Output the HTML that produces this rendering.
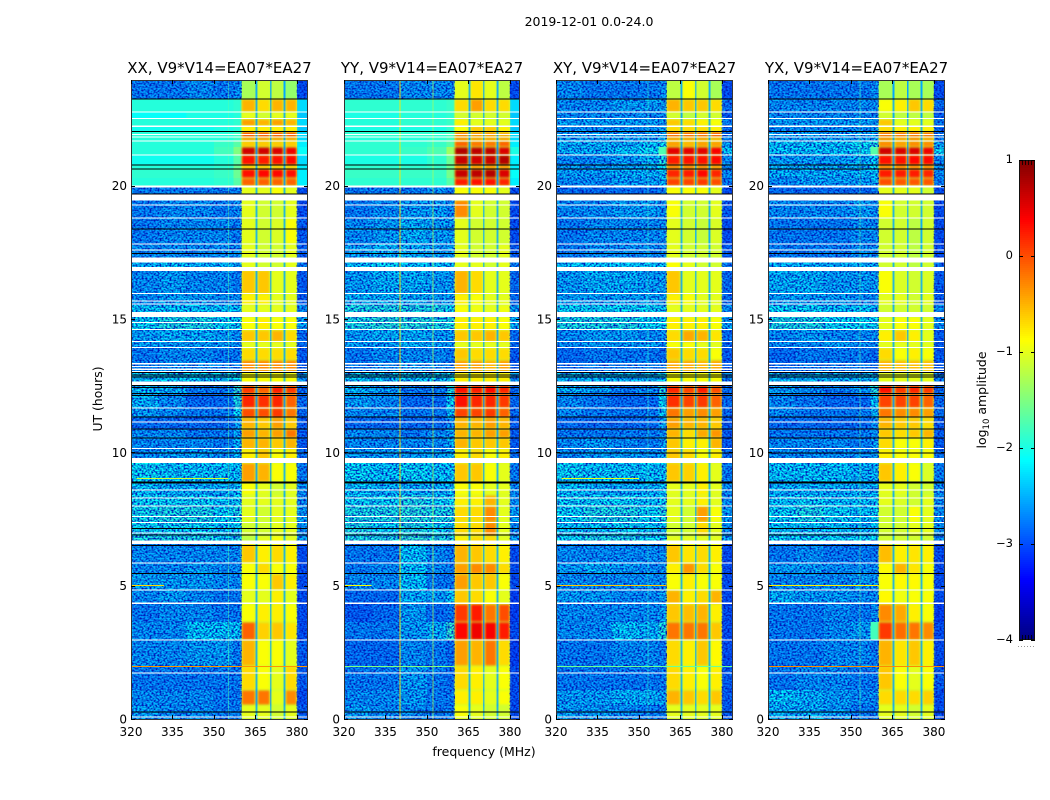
<!DOCTYPE html>
<html><head><meta charset="utf-8"><title>2019-12-01 amplitude spectrograms</title>
<style>html,body{margin:0;padding:0;background:#fff}svg{display:block}text{font-family:"DejaVu Sans","Liberation Sans",sans-serif;fill:#000}</style></head>
<body>
<svg id="fig" xmlns="http://www.w3.org/2000/svg" width="1050" height="800" viewBox="0 0 1050 800">
<defs>
<filter id="soft" x="-5%" y="-5%" width="110%" height="110%" color-interpolation-filters="sRGB"><feGaussianBlur stdDeviation="1"/></filter>
<filter id="grain" x="0" y="0" width="100%" height="100%" color-interpolation-filters="sRGB">
<feTurbulence type="fractalNoise" baseFrequency="0.5 0.6" numOctaves="1" seed="7"/>
<feColorMatrix type="matrix" values="0 0 0 0 0  0 0 0 0 0.08  0 0 0 0 0.72  3 0 0 0 -1.15"/>
</filter>
</defs>
<text x="589" y="26" font-size="12.5" text-anchor="middle">2019-12-01 0.0-24.0</text>
<text x="484" y="756" font-size="12.5" text-anchor="middle">frequency (MHz)</text>
<text transform="translate(102,399) rotate(-90)" font-size="12.4" text-anchor="middle">UT (hours)</text>
<text transform="translate(986,400) rotate(-90)" font-size="12.5" text-anchor="middle">log<tspan font-size="8.5" dy="3">10</tspan><tspan dy="-3"> amplitude</tspan></text>
</svg>
<script>
// ---- chart data ----
const panelTitles = ["XX, V9*V14=EA07*EA27","YY, V9*V14=EA07*EA27","XY, V9*V14=EA07*EA27","YX, V9*V14=EA07*EA27"];
const freqTicks = [320,335,350,365,380];
const hourTicks = [0,5,10,15,20];
const colorTicks = [1,0,-1,-2,-3,-4];
// Top-down time-bin edges (hours UT)
const timeEdges = [23.96,23.25,22.76,22.5,22.24,22.01,21.82,21.67,21.45,21.15,20.77,20.62,20.29,19.98,19.46,18.79,17.81,17.29,16.84,15.94,15.52,15.07,14.59,14.14,13.91,13.46,13.01,12.52,12.19,11.66,11.29,10.87,10.54,10.12,9.6,8.89,8.4,7.99,7.39,6.86,6.56,5.85,5.44,4.84,4.31,3.64,2.96,1.99,1.09,0.52,0];
// Frequency-bin edges (MHz): five off-band columns, four bright sub-bands, one edge column
const offBandEdges = [320,330,340,350,357,360];
const subBandEdges = [[360,365.1],[365.8,370.3],[370.8,375.2],[375.8,380]];
const edgeBand = [380,384];
const gapLevel = -2.55;
// Time bins whose off-band background is smooth rather than speckled, per panel
const smoothBins = [[1,2,3,4,5,6,7,8,9,10,11,12],[1,2,3,4,5,6,7,8,9,10,11,12],[],[]];
// log10 amplitude: [c1,c2,c3,c4,c5, A,B,C,D, edge]
const amplitudeXX = [
[-2.6,-2.6,-2.5,-2.6,-2.5,-1.3,-1.1,-1.2,-1.4,-2.9],
[-1.95,-1.95,-1.95,-1.95,-1.9,-.5,-.7,-.5,-.5,-2.3],
[-2.1,-2.1,-2,-2,-1.95,-1,-1.1,-1,-1,-2.4],
[-1.95,-1.95,-1.95,-1.95,-1.9,-.4,-.5,-.4,-.5,-2.3],
[-2.05,-2.05,-2.05,-2,-1.95,-.8,-.8,-.8,-.8,-2.4],
[-1.95,-1.95,-1.95,-1.95,-1.85,.05,.05,.05,.05,-2.3],
[-1.95,-1.95,-1.95,-1.95,-1.85,-.4,-.4,-.4,-.4,-2.3],
[-1.95,-1.95,-1.95,-1.85,-1.7,-.6,-.6,-.6,-.6,-2.2],
[-1.95,-1.95,-1.95,-1.8,-1.5,.6,.6,.55,.45,-2.1],
[-2.05,-2.05,-2.05,-1.95,-1.7,.3,.25,.3,.35,-2.3],
[-1.95,-1.95,-1.95,-1.9,-1.6,-.6,-.6,-.6,-.6,-2.2],
[-1.9,-1.9,-1.9,-1.85,-1.6,.3,.35,.35,.3,-2.2],
[-1.95,-1.95,-1.95,-1.9,-1.7,-.1,-.1,-.1,-.1,-2.2],
[-2.6,-2.6,-2.6,-2.6,-2.6,-1,-1,-.9,-1,-2.9],
[-2.6,-2.5,-2.5,-2.6,-2.5,-1,-1.1,-1.1,-1,-2.9],
[-2.6,-2.5,-2.5,-2.5,-2.6,-1,-1.1,-1.05,-.9,-2.8],
[-2.5,-2.5,-2.5,-2.5,-2.5,-1,-1.1,-1.1,-1,-2.8],
[-2.3,-2.2,-2.3,-2.3,-2.3,-1,-1.1,-1.1,-1,-2.6],
[-2.5,-2.4,-2.5,-2.5,-2.6,-.6,-.6,-1,-1,-2.8],
[-2.5,-2.4,-2.4,-2.5,-2.5,-.8,-.8,-1,-1,-2.8],
[-2.2,-2.2,-2.2,-2.2,-2.2,-1,-1,-1,-1,-2.5],
[-2.1,-2,-2,-2.1,-2.1,-.9,-.8,-.9,-.9,-2.4],
[-2.4,-2.3,-2.3,-2.4,-2.5,-.6,-.6,-.5,-.7,-2.7],
[-2.4,-2.4,-2.4,-2.4,-2.5,-1,-1,-1,-1,-2.7],
[-2.6,-2.5,-2.5,-2.6,-2.6,-.7,-.7,-.7,-.7,-2.8],
[-2.6,-2.5,-2.5,-2.6,-2.6,-.3,-.3,-.3,-.3,-2.8],
[-2.2,-2.2,-2.2,-2.2,-2.1,-.9,-.9,-.9,-.9,-2.5],
[-2.2,-2.3,-2.6,-2.6,-1.9,.1,-.1,.25,.1,-2.7],
[-2.3,-2.5,-2.7,-2.7,-2,.2,.15,.2,-.1,-2.7],
[-2.4,-2.5,-2.6,-2.6,-2.1,0,0,.1,-.2,-2.7],
[-2.7,-2.7,-2.7,-2.7,-2.4,-.5,-.6,-.4,-.6,-2.8],
[-2.5,-2.5,-2.6,-2.6,-2.4,-.4,-.5,-.4,-.2,-2.8],
[-2.5,-2.5,-2.5,-2.6,-2.3,-.5,-.5,-.6,-.5,-2.8],
[-2.5,-2.4,-2.4,-2.5,-2.3,-.8,-.6,-.9,-.8,-2.7],
[-2.1,-2.2,-2.2,-2.2,-2.2,-.4,-.5,-.9,-.9,-2.6],
[-2.2,-2.3,-2.3,-2.3,-2.2,-.9,-1,-1.1,-1,-2.5],
[-2.1,-2.1,-2.1,-2.2,-2.1,-1,-1,-1,-1,-2.5],
[-2.05,-2,-2,-2.1,-2,-1,-1.1,-1,-1,-2.4],
[-2.1,-2.1,-2.1,-2.2,-2.1,-1.1,-1.1,-1,-1,-2.5],
[-2,-2,-2,-2.1,-2,-1.2,-1,-.9,-1,-2.4],
[-2.5,-2.5,-2.5,-2.5,-2.5,-.6,-.8,-.7,-.8,-2.9],
[-2.5,-2.5,-2.4,-2.5,-2.5,-.9,-.7,-.9,-.9,-2.9],
[-2.4,-2.4,-2.4,-2.5,-2.5,-.9,-.9,-.6,-.8,-2.9],
[-2.5,-2.4,-2.5,-2.6,-2.6,-1,-1,-.8,-1,-2.9],
[-2.6,-2.5,-2.5,-2.6,-2.6,-.9,-.8,-.8,-.9,-2.9],
[-2.5,-2.5,-2.2,-2.2,-2.2,-.1,-.65,-.6,-.75,-2.9],
[-2.5,-2.5,-2.4,-2.4,-2.6,-.5,-.9,-.9,-1,-2.8],
[-2.6,-2.6,-2.6,-2.6,-2.6,-.7,-.9,-1,-.7,-2.8],
[-2.5,-2.5,-2.5,-2.6,-2.6,-.2,-.2,-1,-.3,-2.9],
[-2.4,-2.5,-2.5,-2.6,-2.6,-1,-1,-1.1,-1,-2.8]
];
const amplitudeYY = [
[-2.6,-2.6,-2.5,-2.5,-2.5,-1,-.75,-1,-1.2,-2.9],
[-1.9,-1.9,-1.9,-1.9,-1.85,-.7,-.4,-.7,-.7,-2.3],
[-2,-2,-1.95,-1.95,-1.9,-1.1,-1.1,-1.1,-1.1,-2.4],
[-1.95,-1.95,-1.9,-1.9,-1.85,-.8,-1,-1,-1,-2.3],
[-2,-2,-2,-2,-1.9,-.9,-.6,-.6,-.8,-2.4],
[-1.9,-1.9,-1.9,-1.9,-1.8,-.2,-.3,-.3,-.4,-2.3],
[-1.95,-1.95,-1.95,-1.9,-1.8,-.3,-.4,-.4,-.4,-2.3],
[-1.9,-1.9,-1.9,-1.85,-1.7,-.1,-.2,-.2,-.1,-2.2],
[-1.9,-1.9,-1.85,-1.75,-1.35,.75,.7,.7,.55,-2],
[-2,-2,-2,-1.9,-1.6,.65,.6,.65,.75,-2.2],
[-1.9,-1.9,-1.9,-1.85,-1.6,-.3,-.3,-.3,-.3,-2.2],
[-1.85,-1.85,-1.85,-1.85,-1.55,.65,.7,.75,.55,-2.1],
[-1.9,-1.9,-1.9,-1.9,-1.7,.25,.3,.3,.2,-2.2],
[-2.6,-2.6,-2.6,-2.5,-2.6,-.9,-.9,-.9,-1,-2.9],
[-2.6,-2.5,-2.4,-2.4,-2.5,-.3,-1,-1.1,-1.1,-2.9],
[-2.5,-2.4,-2.3,-2.4,-2.4,-1,-1.1,-1.1,-1.1,-2.9],
[-2.4,-2.3,-2.3,-2.4,-2.4,-1,-1.1,-1.1,-1,-2.8],
[-2.2,-2.1,-2.2,-2.2,-2.2,-1,-1,-1.1,-1,-2.6],
[-2.4,-2.3,-2.3,-2.4,-2.4,-.5,-.7,-1,-1,-2.7],
[-2.3,-2.3,-2.3,-2.4,-2.4,-.8,-.9,-1,-1,-2.7],
[-2,-2,-2,-2,-2.1,-.9,-.95,-1,-.95,-2.4],
[-2,-1.95,-1.95,-2,-2,-.8,-.8,-.8,-.9,-2.3],
[-2.4,-2.3,-2.3,-2.4,-2.4,-.6,-.6,-.5,-.6,-2.7],
[-2.4,-2.4,-2.3,-2.4,-2.4,-1,-1,-1,-1,-2.7],
[-2.6,-2.5,-2.5,-2.5,-2.6,-.6,-.7,-.7,-.7,-2.8],
[-2.6,-2.5,-2.4,-2.5,-2.6,-.4,-.4,-.5,-.4,-2.8],
[-2.2,-2.2,-2.2,-2.2,-2.1,-.8,-.8,-.8,-.8,-2.5],
[-2.3,-2.4,-2.6,-2.6,-2,.3,.25,.35,.2,-2.7],
[-2.4,-2.5,-2.7,-2.7,-2.1,.3,.2,.2,.1,-2.7],
[-2.5,-2.5,-2.6,-2.6,-2.2,.05,.05,.1,-.1,-2.7],
[-2.7,-2.7,-2.7,-2.7,-2.5,-.5,-.5,-.4,-.5,-2.8],
[-2.5,-2.5,-2.6,-2.5,-2.4,-.5,-.5,-.4,-.4,-2.8],
[-2.5,-2.5,-2.5,-2.5,-2.3,-.5,-.6,-.6,-.6,-2.8],
[-2.4,-2.4,-2.4,-2.4,-2.3,-.8,-.7,-.9,-.8,-2.7],
[-2.1,-2.2,-2.1,-2.2,-2.2,-.6,-.6,-.9,-1,-2.6],
[-2.2,-2.3,-2.3,-2.3,-2.2,-.9,-.9,-1,-1,-2.5],
[-2.1,-2.1,-2,-2.1,-2.1,-.8,-.8,-.5,-1,-2.5],
[-2,-2,-1.95,-2,-2,-.7,-.7,-.3,-1,-2.4],
[-2,-2.1,-2,-2.1,-2.1,-.7,-.7,-.3,-1,-2.5],
[-2,-2,-1.9,-2,-2,-.8,-.7,-.7,-1,-2.4],
[-2.6,-2.6,-2.2,-2.5,-2.6,-.5,-.6,-.7,-.8,-2.9],
[-2.6,-2.5,-2.2,-2.5,-2.6,-.4,-.3,-.3,-.7,-2.9],
[-2.5,-2.5,-2.2,-2.6,-2.6,-.4,-.6,-.6,-.9,-2.9],
[-2.7,-2.7,-2.3,-2.4,-2.2,-.6,-.7,-.9,-1,-3],
[-2.8,-2.7,-2.4,-2.7,-2.6,.1,.25,-.2,0,-3],
[-2.6,-2.6,-2.4,-2.3,-1.9,.35,.45,.4,.25,-2.9],
[-2.7,-2.7,-2.5,-2.6,-2.7,-.4,-.5,-.2,-.7,-3],
[-2.6,-2.6,-2.4,-2.6,-2.7,-.7,-.8,-1,-.9,-2.9],
[-2.5,-2.5,-2.4,-2.6,-2.6,-.8,-.8,-1,-.9,-2.9],
[-2.4,-2.5,-2.5,-2.6,-2.6,-.9,-1,-1.1,-1.1,-2.9]
];
const amplitudeXY = [
[-2.5,-2.6,-2.6,-2.6,-2.5,-1.2,-.9,-1.1,-1.3,-2.9],
[-2.5,-2.5,-2.4,-2.4,-2.4,-.5,-.6,-.6,-.7,-2.7],
[-2.5,-2.5,-2.5,-2.5,-2.5,-1.1,-1.2,-1.1,-1.1,-2.8],
[-2.4,-2.4,-2.4,-2.4,-2.4,-.6,-.7,-.8,-.9,-2.6],
[-2.5,-2.5,-2.5,-2.5,-2.4,-.7,-.7,-.7,-.8,-2.7],
[-2.4,-2.4,-2.4,-2.4,-2.3,-.05,-.05,-.05,0,-2.6],
[-2.4,-2.4,-2.4,-2.4,-2.3,-.4,-.4,-.4,-.5,-2.6],
[-2.3,-2.3,-2.3,-2.2,-2.1,-.4,-.5,-.4,-.4,-2.4],
[-2.3,-2.3,-2.2,-2.1,-1.75,.5,.5,.5,.4,-2.2],
[-2.5,-2.5,-2.4,-2.3,-2,.25,.3,.3,.35,-2.5],
[-2.4,-2.4,-2.4,-2.3,-2.1,-.2,-.2,-.2,-.3,-2.5],
[-2.4,-2.4,-2.3,-2.3,-2.2,.2,.25,.35,.2,-2.5],
[-2.5,-2.5,-2.4,-2.4,-2.3,.05,.05,.1,0,-2.6],
[-2.7,-2.7,-2.7,-2.7,-2.6,-.9,-.9,-.9,-1,-2.9],
[-2.5,-2.5,-2.4,-2.4,-2.5,-.9,-1.1,-1.1,-1,-2.8],
[-2.6,-2.5,-2.5,-2.5,-2.5,-1,-1.1,-1.15,-1.05,-2.9],
[-2.6,-2.5,-2.5,-2.5,-2.5,-1,-1.1,-1.1,-1.1,-2.8],
[-2.2,-2.2,-2.2,-2.2,-2.2,-.9,-1,-1.1,-1.1,-2.6],
[-2.4,-2.3,-2.3,-2.4,-2.4,-.6,-1,-1,-1,-2.7],
[-2.4,-2.4,-2.4,-2.4,-2.4,-.8,-.9,-1,-1,-2.7],
[-2.1,-2.1,-2.1,-2.1,-2.2,-1,-1,-1,-1,-2.5],
[-2,-2,-2,-2.1,-2.1,-.8,-.8,-.8,-.9,-2.4],
[-2.5,-2.4,-2.4,-2.5,-2.5,-.7,-.45,-.5,-.75,-2.7],
[-2.5,-2.4,-2.4,-2.4,-2.5,-.9,-.9,-1,-1,-2.7],
[-2.7,-2.6,-2.6,-2.6,-2.7,-.6,-.7,-.7,-.9,-2.8],
[-2.7,-2.6,-2.6,-2.6,-2.6,-.45,-.45,-.5,-.45,-2.8],
[-2.3,-2.3,-2.3,-2.3,-2.2,-.9,-.9,-.9,-.9,-2.6],
[-2.3,-2.4,-2.6,-2.5,-1.95,.2,.05,.25,0,-2.7],
[-2.5,-2.6,-2.7,-2.7,-2.1,.15,.05,.1,-.1,-2.7],
[-2.5,-2.6,-2.6,-2.6,-2.2,-.2,-.4,-.3,-.4,-2.7],
[-2.7,-2.7,-2.7,-2.7,-2.4,-.4,-.5,-.5,-.6,-2.8],
[-2.6,-2.6,-2.6,-2.6,-2.5,-.5,-.7,-.45,-.35,-2.8],
[-2.5,-2.4,-2.5,-2.6,-2.4,-.6,-.8,-.8,-.5,-2.8],
[-2.5,-2.4,-2.4,-2.5,-2.4,-.6,-.7,-.9,-.8,-2.7],
[-2.1,-2.2,-2.2,-2.2,-2.2,-.6,-.65,-.8,-1,-2.6],
[-2.2,-2.3,-2.3,-2.3,-2.2,-1,-1,-.8,-1,-2.5],
[-2.1,-2.1,-2.1,-2.2,-2.1,-1,-1,-.8,-1,-2.5],
[-2.1,-2,-2,-2.1,-2,-1,-1.1,-.4,-.9,-2.4],
[-2.2,-2.2,-2.1,-2.2,-2.2,-1.1,-1.1,-.7,-1,-2.5],
[-2.1,-2,-2,-2.1,-2.1,-1,-1,-1,-1,-2.4],
[-2.5,-2.5,-2.5,-2.5,-2.5,-.6,-.75,-.7,-.8,-2.9],
[-2.4,-2.3,-2.4,-2.5,-2.5,-.8,-.35,-.7,-.9,-2.9],
[-2.5,-2.5,-2.5,-2.5,-2.5,-.9,-.8,-.9,-.9,-2.9],
[-2.4,-2.4,-2.5,-2.5,-2.4,-.5,-.8,-.7,-.5,-2.9],
[-2.5,-2.5,-2.5,-2.5,-2.4,-.6,-.55,-.5,-.8,-2.9],
[-2.5,-2.5,-2.2,-2.3,-2,-.2,-.2,-.2,-.6,-2.9],
[-2.6,-2.6,-2.5,-2.5,-2.6,-.7,-.8,-.6,-.85,-2.9],
[-2.6,-2.6,-2.6,-2.6,-2.6,-.7,-.8,-.9,-.8,-2.8],
[-2.4,-2.4,-2.3,-2.3,-2.4,-.5,-.6,-.7,-.6,-2.8],
[-2.4,-2.4,-2.5,-2.6,-2.6,-1,-1,-1,-1,-2.8]
];
const amplitudeYX = [
[-2.6,-2.6,-2.6,-2.6,-2.5,-1.3,-1.2,-1.3,-1.3,-2.9],
[-2.5,-2.5,-2.5,-2.5,-2.5,-.9,-.8,-.6,-.7,-2.7],
[-2.5,-2.5,-2.5,-2.5,-2.5,-1.1,-1.2,-1.2,-1.2,-2.8],
[-2.4,-2.4,-2.4,-2.4,-2.4,-.6,-1,-1,-1,-2.6],
[-2.5,-2.5,-2.5,-2.5,-2.4,-.7,-.8,-.8,-.8,-2.7],
[-2.4,-2.4,-2.4,-2.4,-2.3,-.1,-.1,-.1,-.1,-2.6],
[-2.4,-2.4,-2.4,-2.4,-2.3,-.3,-.4,-.3,-.4,-2.6],
[-2.2,-2.2,-2.2,-2.1,-2,-.3,-.4,-.3,-.3,-2.4],
[-2.2,-2.2,-2.2,-2.1,-1.7,.6,.55,.55,.45,-2.1],
[-2.4,-2.4,-2.4,-2.3,-2.2,.3,.3,.35,.35,-2.5],
[-2.3,-2.3,-2.3,-2.3,-2.1,-.2,-.2,-.2,-.2,-2.5],
[-2.3,-2.3,-2.3,-2.3,-2.2,.25,.25,.25,.2,-2.5],
[-2.5,-2.4,-2.4,-2.4,-2.3,0,-.05,-.05,-.05,-2.6],
[-2.7,-2.7,-2.7,-2.7,-2.6,-1,-1,-1,-1.1,-2.9],
[-2.5,-2.5,-2.5,-2.4,-2.5,-.9,-1.1,-1.1,-1.1,-2.9],
[-2.6,-2.6,-2.6,-2.5,-2.5,-1.1,-1.1,-1.2,-1.1,-2.9],
[-2.6,-2.6,-2.6,-2.5,-2.5,-1.1,-1.1,-1.2,-1.1,-2.9],
[-2.3,-2.3,-2.3,-2.3,-2.3,-1.1,-1.1,-1.2,-1.1,-2.7],
[-2.3,-2.3,-2.4,-2.4,-2.4,-.9,-1.05,-1.1,-1.05,-2.8],
[-2.4,-2.4,-2.4,-2.5,-2.5,-1,-1,-1.1,-1,-2.8],
[-2.1,-2.1,-2.2,-2.2,-2.3,-1.1,-1.1,-1.1,-1.1,-2.5],
[-2,-2,-2.1,-2.1,-2.1,-1,-.9,-.9,-1,-2.5],
[-2.5,-2.4,-2.5,-2.5,-2.5,-.8,-.6,-.8,-1,-2.8],
[-2.5,-2.5,-2.4,-2.5,-2.5,-1,-1,-1,-1,-2.8],
[-2.7,-2.6,-2.6,-2.6,-2.7,-.7,-.9,-.8,-.9,-2.8],
[-2.7,-2.6,-2.6,-2.6,-2.7,-.5,-.55,-.55,-.55,-2.8],
[-2.3,-2.3,-2.3,-2.3,-2.3,-1,-1,-1,-1,-2.6],
[-2.4,-2.5,-2.6,-2.5,-1.95,.3,.1,.2,.1,-2.7],
[-2.5,-2.6,-2.7,-2.7,-2.2,.05,.05,.05,-.1,-2.7],
[-2.5,-2.6,-2.6,-2.6,-2.3,-.2,-.3,-.3,-.4,-2.7],
[-2.7,-2.7,-2.7,-2.7,-2.5,-.5,-.6,-.6,-.7,-2.8],
[-2.6,-2.6,-2.6,-2.6,-2.5,-.6,-.7,-.6,-.5,-2.8],
[-2.5,-2.5,-2.5,-2.6,-2.4,-.7,-.9,-.9,-.8,-2.8],
[-2.5,-2.5,-2.5,-2.5,-2.4,-.8,-.9,-.9,-.9,-2.7],
[-2.2,-2.2,-2.2,-2.3,-2.3,-.6,-.8,-.9,-1.05,-2.6],
[-2.3,-2.3,-2.3,-2.3,-2.3,-1,-1,-1.1,-1.1,-2.5],
[-2.2,-2.1,-2.2,-2.2,-2.2,-1,-1.05,-1.1,-1,-2.5],
[-2.1,-2,-2.1,-2.2,-2.1,-1.1,-1.1,-.9,-1,-2.5],
[-2.2,-2.2,-2.2,-2.3,-2.2,-1.1,-1.1,-1,-1,-2.5],
[-2.1,-2.1,-2.1,-2.1,-2.1,-1.1,-1.1,-1.1,-1.1,-2.5],
[-2.6,-2.5,-2.6,-2.6,-2.6,-.55,-.8,-.75,-.8,-2.9],
[-2.4,-2.4,-2.5,-2.5,-2.5,-.85,-.5,-.75,-.9,-2.9],
[-2.5,-2.5,-2.5,-2.4,-2.5,-.9,-.85,-.85,-.9,-2.9],
[-2.3,-2.4,-2.4,-2.5,-2.5,-.85,-.95,-.9,-.9,-2.9],
[-2.6,-2.6,-2.5,-2.6,-2.5,-.3,-.45,-.8,-.9,-3],
[-2.6,-2.6,-2.5,-2.4,-1.8,.1,-.15,-.2,-.3,-2.9],
[-2.6,-2.6,-2.5,-2.5,-2.6,-.5,-.75,-.6,-.8,-2.9],
[-2.6,-2.5,-2.5,-2.6,-2.6,-.6,-.9,-1,-.9,-2.8],
[-2.2,-2.3,-2.4,-2.5,-2.5,-.7,-.7,-.7,-.65,-2.9],
[-2.3,-2.3,-2.4,-2.6,-2.6,-1,-1,-1.1,-1,-2.9]
];
const panelAmplitudes = [amplitudeXX,amplitudeYY,amplitudeXY,amplitudeYX];
// Flagged time ranges (no data), hours UT [start,end]
const flaggedWhite = [[22.74,22.78],[22.5,22.54],[22.2,22.25],[21.9,21.94],[21.8,21.84],[21.65,21.69],[21.13,21.17],[19.93,20.0],[19.45,19.7],[19.26,19.3],[18.77,18.81],[17.79,17.83],[17.57,17.61],[17.12,17.3],[16.8,16.94],[15.94,15.98],[15.66,15.7],[15.54,15.58],[15.07,15.27],[14.85,14.89],[14.59,14.63],[14.14,14.18],[13.91,13.95],[13.3,13.34],[13.2,13.24],[13.1,13.14],[13.01,13.05],[12.5,12.65],[11.64,11.68],[11.12,11.16],[10.12,10.16],[9.6,9.78],[8.57,8.61],[8.27,8.31],[7.97,8.01],[7.58,7.62],[7.35,7.39],[6.96,7.0],[6.56,6.7],[5.83,5.87],[4.82,4.86],[4.32,4.36],[2.95,2.99],[1.71,1.75],[0.05,0.1]];
const flaggedBlack = [[23.23,23.27],[22.0,22.04],[20.76,20.8],[20.6,20.64],[19.67,19.71],[18.36,18.4],[17.44,17.48],[13.0,13.02],[12.87,12.91],[12.81,12.85],[12.49,12.53],[12.4,12.44],[12.19,12.23],[12.1,12.14],[11.3,11.34],[10.85,10.89],[10.52,10.56],[9.95,9.99],[8.87,8.91],[8.82,8.86],[7.12,7.16],[6.87,6.91],[6.49,6.53],[5.43,5.47],[0.25,0.29]];
// Narrow interference: [frequency MHz, level, strength]
const rfiChannels = [[[355,-1.7,.45]],[[340,-.75,.9],[352,-1.3,.7]],[[353,-1.9,.5]],[[353,-1.7,.5]]];
// Interference rows: [hour, start MHz, end MHz, level]
const rfiRows = [[[1.99,320,384,-.35],[5.02,320,332,-.7],[9.03,322,355,-1.1]],[[1.99,320,360,-1.5],[5.02,320,330,-.9]],[[1.99,320,384,-1.6],[5.02,320,360,-.6],[9.03,322,350,-1]],[[1.99,320,384,-.3],[5.02,320,360,-.8]]];

// ---- axes ----
const svgNS = 'http://www.w3.org/2000/svg';
const fig = document.getElementById('fig');
const panelLeft = [131,344,556,768];
const panelWidth = [177,176,177,177];
const plotTop = 80, plotBottom = 719;
const xScale = (p,f) => panelLeft[p] + (f-320)*177/64;
const yScale = h => plotBottom - h*(plotBottom-plotTop)/23.96;
function jet(v){
  const t = Math.max(0,Math.min(1,(v+4)/5));
  const c = x => Math.round(255*Math.max(0,Math.min(1,x)));
  return 'rgb('+c(1.5-Math.abs(4*t-3))+','+c(1.5-Math.abs(4*t-2))+','+c(1.5-Math.abs(4*t-1))+')';
}
function mk(tag,attrs,parent){
  const e = document.createElementNS(svgNS,tag);
  for(const k in attrs) e.setAttribute(k,attrs[k]);
  parent.appendChild(e);
  return e;
}
const defs = fig.querySelector('defs');
panelTitles.forEach((title,p)=>{
  const panelW = panelWidth[p];
  const clip = mk('clipPath',{id:'clip'+p},defs);
  mk('rect',{x:panelLeft[p],y:plotTop,width:panelW,height:plotBottom-plotTop},clip);
  const g = mk('g',{'clip-path':'url(#clip'+p+')','shape-rendering':'crispEdges'},fig);
  
  
  const soft = document.createElementNS(svgNS,'g');
  soft.setAttribute('filter','url(#soft)');
  const speckle = document.createElementNS(svgNS,'g');
  panelAmplitudes[p].forEach((row,r)=>{
    const y0 = yScale(timeEdges[r]), y1 = yScale(timeEdges[r+1]);
    const isSmooth = smoothBins[p].includes(r);
    const cell = (f0,f1,v,parent,inset,vInset)=>{
      const x0 = xScale(p,f0)+(inset||0), x1 = xScale(p,f1)-(inset||0);
      const c = mk('rect',{x:x0,y:y0+(vInset||0),width:x1-x0,height:y1-y0-2*(vInset||0),fill:jet(v)},parent);
      
      
      return c;
    };
    const noisy = (f0,f1,v)=>{
      if(isSmooth || v>=-1.85) return;
      const n = mk('rect',{x:xScale(p,f0),y:y0,width:xScale(p,f1)-xScale(p,f0),height:y1-y0,filter:'url(#grain)'},speckle);
      
      
    };
    for(let i=0;i<5;i++){
      cell(offBandEdges[i],offBandEdges[i+1],row[i],g);
      noisy(offBandEdges[i],offBandEdges[i+1],row[i]);
    }
    cell(edgeBand[0],edgeBand[1],row[9],g);
    noisy(edgeBand[0],edgeBand[1],row[9]);
    subBandEdges.forEach((b,i)=>{
      cell(b[0],b[1],Math.min(row[5+i],-1.15),g);
      if(i<3) cell(b[1],subBandEdges[i+1][0],gapLevel,g);
      if(row[5+i]>-1.15) cell(b[0],b[1],row[5+i],soft,.5,.6);
    });
  });
  g.appendChild(soft);
  g.appendChild(speckle);
  rfiChannels[p].forEach(c=>{
    const l = mk('rect',{x:xScale(p,c[0]),y:plotTop,width:1,height:plotBottom-plotTop,fill:jet(c[1]),opacity:c[2]},g);
    
    
  });
  rfiRows[p].forEach(c=>{
    const l = mk('rect',{x:xScale(p,c[1]),y:yScale(c[0]),width:xScale(p,c[2])-xScale(p,c[1]),height:1,fill:jet(c[3])},g);
    
    
  });
  flaggedWhite.forEach(b=>{
    const h = Math.max(1.2,yScale(b[0])-yScale(b[1]));
    const l = mk('rect',{x:panelLeft[p],y:yScale(b[1]),width:panelW,height:h,fill:'#fff'},g);
    
    
  });
  flaggedBlack.forEach(b=>{
    const l = mk('rect',{x:panelLeft[p],y:yScale(b[1]),width:panelW,height:1,fill:'#000'},g);
    
    
  });
  // frame
  const frame = mk('rect',{x:panelLeft[p]+.5,y:plotTop+.5,width:panelW-1,height:plotBottom-plotTop,fill:'none',stroke:'#333','stroke-width':1},fig);
  
  
  // title
  const t = mk('text',{x:panelLeft[p]+panelW/2,y:73,'font-size':15,'text-anchor':'middle'},fig);
  t.textContent = title;
  
  
  // x ticks
  freqTicks.forEach(f=>{
    const x = Math.round(xScale(p,f))+.5;
    const tk = mk('path',{d:'M'+x+' '+plotBottom+'v-4M'+x+' '+plotTop+'v4',stroke:'#000','stroke-width':1,fill:'none'},fig);
    
    
    const l = mk('text',{x:xScale(p,f),y:736,'font-size':12,'text-anchor':'middle'},fig);
    l.textContent = f;
    
    
  });
  // y ticks
  hourTicks.forEach(h=>{
    const y = Math.round(yScale(h))+.5;
    const tk = mk('path',{d:'M'+panelLeft[p]+' '+y+'h4M'+(panelLeft[p]+panelW)+' '+y+'h-4',stroke:'#000','stroke-width':1,fill:'none'},fig);
    
    
    const l = mk('text',{x:panelLeft[p]-4,y:yScale(h)+4.5,'font-size':12,'text-anchor':'end'},fig);
    l.textContent = h;
    
    
  });
});
// ---- colorbar ----
const cbX = 1019, cbW = 16, cbTop = 160, cbBottom = 640;
const cbY = v => cbTop + (1-v)*(cbBottom-cbTop)/5;
const cb = mk('g',{'shape-rendering':'crispEdges'},fig);


for(let py=cbTop;py<cbBottom;py+=2){
  const s = mk('rect',{x:cbX,y:py,width:cbW,height:2,fill:jet(1-(py+1-cbTop)*5/(cbBottom-cbTop))},cb);
  
  
}
const cbFrame = mk('rect',{x:cbX+.5,y:cbTop+.5,width:cbW-1,height:cbBottom-cbTop-1,fill:'none',stroke:'#111','stroke-width':1},fig);


colorTicks.forEach(v=>{
  const y = Math.round(cbY(v))+.5;
  const tk = mk('path',{d:'M'+cbX+' '+y+'h4M'+(cbX+cbW)+' '+y+'h-4',stroke:'#000','stroke-width':1,fill:'none'},fig);
  
  
  const l = mk('text',{x:1013,y:cbY(v)+3,'font-size':11.5,'text-anchor':'end'},fig);
  l.textContent = v<0 ? '\u2212'+(-v) : String(v);
  
  
});
[3,6,9,12].forEach(dx=>{
  const m = mk('path',{d:'M'+(cbX+dx+.5)+' '+cbTop+'v5M'+(cbX+dx+.5)+' '+cbBottom+'v-5',stroke:'#000','stroke-width':1,opacity:.8,fill:'none'},fig);
  
  
});
const dots = mk('path',{d:'M1018 646.5h17',stroke:'#999','stroke-width':1,'stroke-dasharray':'1 2',fill:'none'},fig);


</script>
</body></html>
